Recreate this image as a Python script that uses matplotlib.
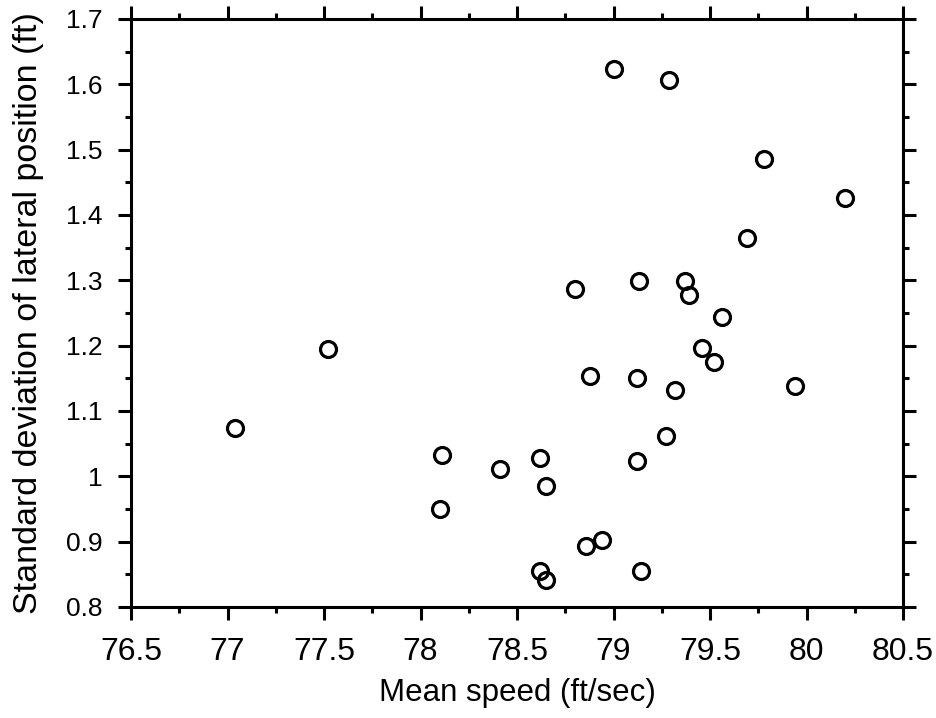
import matplotlib
matplotlib.use("Agg")
import matplotlib.pyplot as plt
from matplotlib.ticker import MultipleLocator, FuncFormatter

mean_speed = [77.04, 77.52, 78.11, 78.10, 78.41, 78.62, 78.65, 78.62, 78.65, 78.86,
              78.94, 78.80, 78.88, 79.00, 79.29, 79.13, 79.12, 79.12, 79.14, 79.27,
              79.32, 79.37, 79.39, 79.46, 79.52, 79.56, 79.69, 79.78, 79.94, 80.20]
sd_lateral = [1.074, 1.195, 1.032, 0.950, 1.011, 1.028, 0.985, 0.855, 0.841, 0.894,
              0.902, 1.287, 1.153, 1.623, 1.607, 1.299, 1.150, 1.023, 0.855, 1.061,
              1.132, 1.299, 1.277, 1.196, 1.175, 1.244, 1.365, 1.486, 1.138, 1.426]

plt.rcParams['font.family'] = ['Liberation Sans', 'DejaVu Sans']

fig = plt.figure(figsize=(9.36, 7.18), dpi=100)
ax = fig.add_axes([131/936, 1 - 607/718, (903 - 131)/936, (607 - 19)/718])

ax.plot(mean_speed, sd_lateral, linestyle='none', marker='o', markersize=11.5,
        markerfacecolor='none', markeredgecolor='black', markeredgewidth=2.3)

ax.set_xlim(76.5, 80.5)
ax.set_ylim(0.8, 1.7)
ax.xaxis.set_major_locator(MultipleLocator(0.5))
ax.xaxis.set_minor_locator(MultipleLocator(0.25))
ax.yaxis.set_major_locator(MultipleLocator(0.1))
ax.yaxis.set_minor_locator(MultipleLocator(0.05))

def fmt(v, pos):
    return f"{v:.2f}".rstrip('0').rstrip('.')

ax.xaxis.set_major_formatter(FuncFormatter(fmt))
ax.yaxis.set_major_formatter(FuncFormatter(fmt))

for sp in ax.spines.values():
    sp.set_linewidth(2.2)

ax.tick_params(which='both', direction='out', top=True, right=True, width=2.2,
               labeltop=False, labelright=False)
ax.tick_params(which='major', length=9.4)
ax.tick_params(which='minor', length=4.5)
ax.tick_params(axis='y', labelsize=19, pad=11)
ax.tick_params(axis='x', labelsize=23, pad=12)

ax.set_xlabel("Mean speed (ft/sec)", fontsize=22.5, labelpad=8)
ax.set_ylabel("Standard deviation of lateral position (ft)", fontsize=24.5, labelpad=16)

fig.savefig("out.png", dpi=100)
